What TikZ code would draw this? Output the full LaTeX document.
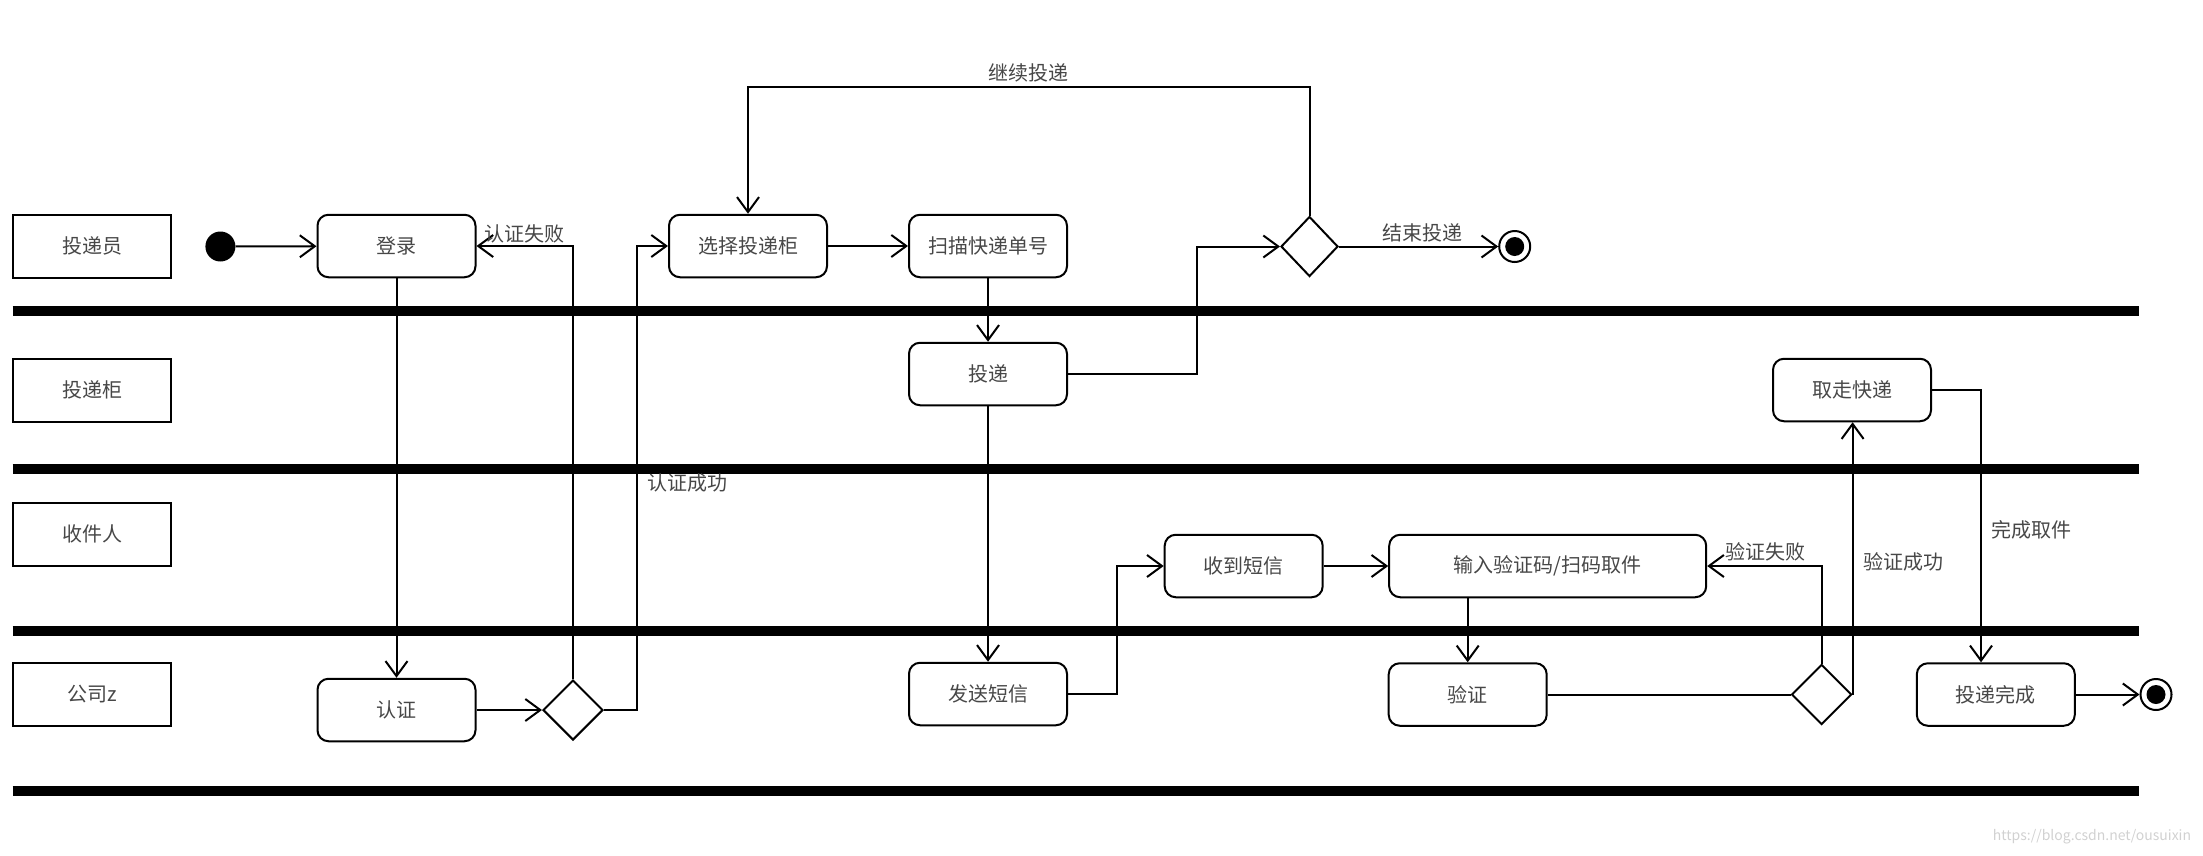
\documentclass[tikz,border=0pt]{standalone}
\usepackage{fontspec}
\setmainfont{Noto Sans CJK SC}
\usetikzlibrary{shapes.geometric,arrows.meta}
\begin{document}
\begin{tikzpicture}[x=1pt,y=-1pt,
  every node/.style={font=\fontsize{20}{24}\selectfont, text=black!72},
  lanebox/.style={draw=black,line width=2pt,minimum width=158pt,minimum height=63pt,inner sep=0pt},
  act/.style={draw=black,line width=2pt,rounded corners=11pt,minimum width=158pt,minimum height=62.5pt,inner sep=0pt},
  dec/.style={draw=black,line width=2pt,diamond,minimum width=60pt,minimum height=60pt,inner sep=0pt},
  lane/.style={line width=10pt},
  arr/.style={line width=2pt,-{Straight Barb[length=15pt,width=22pt,line width=2pt]}},
  ln/.style={line width=2pt},
  lbl/.style={inner sep=0pt}]
\useasboundingbox (0,0) rectangle (2203,855);
% swimlane separators
\draw[lane] (12.6,311) -- (2139,311);
\draw[lane] (12.6,469) -- (2139,469);
\draw[lane] (12.6,631) -- (2139,631);
\draw[lane] (12.6,791) -- (2139,791);
% lane labels
\node[lanebox] (L1) at (92,246) {投递员};
\node[lanebox] (L2) at (92,390) {投递柜};
\node[lanebox] (L3) at (92,534) {收件人};
\node[lanebox] (L4) at (92,694) {公司z};
% start / end
\node[circle,fill=black,minimum size=30pt,inner sep=0pt] (start) at (220.4,246.5) {};
\node[circle,draw=black,line width=2pt,minimum size=31pt,inner sep=0pt] (end1) at (1514.7,246.5) {};
\fill (end1) circle (9.5pt);
\node[circle,draw=black,line width=2pt,minimum size=31pt,inner sep=0pt] (end2) at (2156,694.5) {};
\fill (end2) circle (9.5pt);
% activities
\node[act] (login) at (396.5,246) {登录};
\node[act] (sel) at (748,246) {选择投递柜};
\node[act] (scan) at (988,246) {扫描快递单号};
\node[act] (tou) at (988,374) {投递};
\node[act] (take) at (1852,390) {取走快递};
\node[act] (recv) at (1243.7,566) {收到短信};
\node[act,minimum width=317pt] (input) at (1547.7,566) {输入验证码/扫码取件};
\node[act] (auth) at (396.5,710) {认证};
\node[act] (send) at (988,694) {发送短信};
\node[act] (verify) at (1467.7,694.5) {验证};
\node[act] (done) at (1995.8,694.5) {投递完成};
% decisions
\node[dec] (d1) at (573,710) {};
\node[dec,minimum width=57pt] (d2) at (1309.5,246.5) {};
\node[dec] (d3) at (1821.6,694.5) {};
% helper coordinates
\coordinate (c1) at (636.7,710);
\coordinate (c2) at (1196.9,374);
\coordinate (loopc) at (748,86.7);
\coordinate (c3) at (1117,694);
\coordinate (c4) at (1981,390);
% connectors
\draw[arr] (start) -- (login);
\draw[arr] (login) -- (auth);
\draw[arr] (auth) -- (d1);
\draw[arr] (d1.north) |- (login.east);
\draw[arr] (d1.east) -- (c1) |- (sel.west);
\draw[arr] (sel) -- (scan);
\draw[arr] (scan) -- (tou);
\draw[arr] (tou.east) -- (c2) |- (d2.west);
\draw[arr] (d2.north) |- (loopc) -- (sel.north);
\draw[arr] (d2.east) -- (end1);
\draw[arr] (tou) -- (send);
\draw[arr] (send.east) -- (c3) |- (recv.west);
\draw[arr] (recv) -- (input);
\draw[arr] (input.south -| verify) -- (verify.north);
\draw[ln] (verify) -- (d3);
\draw[arr] (d3.north) |- (input.east);
\draw[arr] (d3.east) -- (d3.east |- take.south);
\draw[arr] (take.east) -- (c4) -- (c4 |- done.north);
\draw[arr] (done) -- (end2);
% labels
\node[lbl] (t1) at (524,234) {认证失败};
\node[lbl] (t2) at (687,483) {认证成功};
\node[lbl] (t3) at (1028,73) {继续投递};
\node[lbl] (t4) at (1422,233) {结束投递};
\node[lbl] (t5) at (1765.6,552) {验证失败};
\node[lbl] (t6) at (1903.5,562) {验证成功};
\node[lbl] (t7) at (2031.5,530) {完成取件};
\node[lbl,font=\fontsize{14}{16}\selectfont,text=black!18] (wm) at (2092,837) {https://blog.csdn.net/ousuixin};
\end{tikzpicture}
\end{document}
